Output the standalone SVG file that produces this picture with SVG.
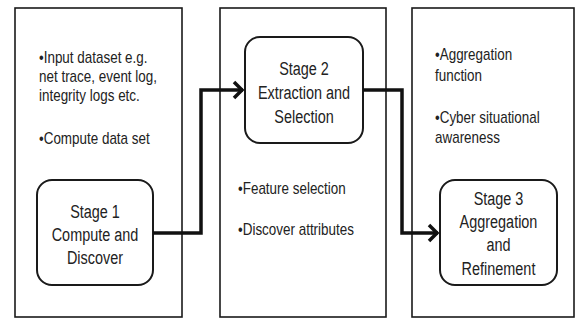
<svg xmlns="http://www.w3.org/2000/svg" width="576" height="325" viewBox="0 0 576 325">
<style>
.panel{fill:#fff;stroke:#1a1a1a;stroke-width:1.6}
.stage{fill:#fff;stroke:#1a1a1a;stroke-width:2}
.st{font-family:"Liberation Sans",Arial,sans-serif;font-size:19px;fill:#222;text-anchor:middle}
.bl{font-family:"Liberation Sans",Arial,sans-serif;font-size:16px;fill:#222}
.conn{fill:none;stroke:#111;stroke-width:3.5;stroke-linejoin:miter}
</style>
<defs>
<marker id="arr" markerUnits="userSpaceOnUse" markerWidth="16" markerHeight="20" viewBox="0 0 16 20" refX="13" refY="10" orient="auto">
<path d="M4,2 L12,10 L4,18" fill="none" stroke="#111" stroke-width="3.5"/>
</marker>
</defs>
<rect width="576" height="325" fill="#fff"/>
<g id="panel1">
<rect class="panel" x="15" y="8" width="167" height="309"/>
<text class="bl" transform="translate(39,0) scale(0.84,1)"><tspan x="0" y="63">•Input dataset e.g.</tspan><tspan x="0" y="82">net trace, event log,</tspan><tspan x="0" y="101">integrity logs etc.</tspan><tspan x="0" y="144">•Compute data set</tspan></text>
</g>
<g id="panel2">
<rect class="panel" x="220" y="8" width="166" height="309"/>
<text class="bl" transform="translate(238,0) scale(0.84,1)"><tspan x="0" y="194">•Feature selection</tspan><tspan x="0" y="235">•Discover attributes</tspan></text>
</g>
<g id="panel3">
<rect class="panel" x="412" y="8" width="162" height="309"/>
<text class="bl" transform="translate(435,0) scale(0.84,1)"><tspan x="0" y="60">•Aggregation</tspan><tspan x="0" y="81">function</tspan><tspan x="0" y="123">•Cyber situational</tspan><tspan x="0" y="143">awareness</tspan></text>
</g>
<g id="stage1">
<rect class="stage" x="37" y="180" width="116" height="105" rx="15"/>
<text class="st" transform="translate(95,0) scale(0.76,1)"><tspan x="0" y="218">Stage 1</tspan><tspan x="0" y="241">Compute and</tspan><tspan x="0" y="264">Discover</tspan></text>
</g>
<g id="stage2">
<rect class="stage" x="245" y="37" width="118" height="106" rx="15"/>
<text class="st" transform="translate(304,0) scale(0.76,1)"><tspan x="0" y="75">Stage 2</tspan><tspan x="0" y="99">Extraction and</tspan><tspan x="0" y="123">Selection</tspan></text>
</g>
<g id="stage3">
<rect class="stage" x="440" y="180" width="117" height="105" rx="15"/>
<text class="st" transform="translate(498.5,0) scale(0.76,1)"><tspan x="0" y="205">Stage 3</tspan><tspan x="0" y="228">Aggregation</tspan><tspan x="0" y="251">and</tspan><tspan x="0" y="275">Refinement</tspan></text>
</g>
<g id="connectors">
<path class="conn" d="M153,233 H201 V90 H243" marker-end="url(#arr)"/>
<path class="conn" d="M363,90 H402 V233 H438" marker-end="url(#arr)"/>
</g>
</svg>
